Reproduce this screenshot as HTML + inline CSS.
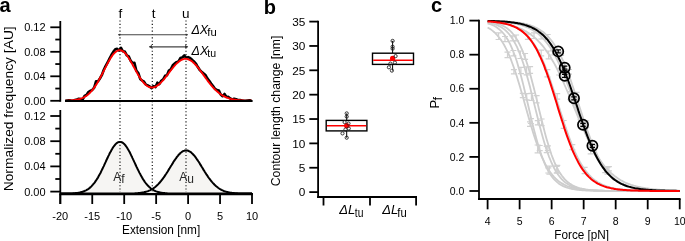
<!DOCTYPE html><html><head><meta charset="utf-8"><style>html,body{margin:0;padding:0;background:#fff;width:685px;height:241px;overflow:hidden}</style></head><body><svg xmlns="http://www.w3.org/2000/svg" width="685" height="241" viewBox="0 0 685 241" style="position:absolute;left:0;top:0;will-change:transform">
<rect width="685" height="241" fill="#fff"/>
<g font-family='"Liberation Sans", sans-serif' fill="#000">
<text x="-0.5" y="12.3" font-size="20" font-weight="bold">a</text>
<text x="263.7" y="13.5" font-size="20" font-weight="bold">b</text>
<text x="431" y="12.4" font-size="20" font-weight="bold">c</text>
<path d="M60.3,193.6 60.9,193.6 61.6,193.6 62.2,193.6 62.9,193.6 63.5,193.6 64.1,193.6 64.8,193.6 65.4,193.6 66.1,193.6 66.7,193.5 67.3,193.5 68.0,193.5 68.6,193.5 69.2,193.5 69.9,193.5 70.5,193.5 71.2,193.4 71.8,193.4 72.4,193.4 73.1,193.3 73.7,193.3 74.4,193.2 75.0,193.2 75.6,193.1 76.3,193.1 76.9,193.0 77.6,192.9 78.2,192.8 78.8,192.7 79.5,192.6 80.1,192.5 80.7,192.3 81.4,192.1 82.0,192.0 82.7,191.8 83.3,191.5 83.9,191.3 84.6,191.0 85.2,190.7 85.9,190.4 86.5,190.1 87.1,189.7 87.8,189.3 88.4,188.9 89.1,188.4 89.7,187.9 90.3,187.3 91.0,186.7 91.6,186.1 92.2,185.4 92.9,184.7 93.5,183.9 94.2,183.1 94.8,182.3 95.4,181.4 96.1,180.4 96.7,179.5 97.4,178.4 98.0,177.4 98.6,176.2 99.3,175.1 99.9,173.9 100.6,172.7 101.2,171.4 101.8,170.1 102.5,168.8 103.1,167.4 103.8,166.1 104.4,164.7 105.0,163.3 105.7,161.9 106.3,160.5 106.9,159.2 107.6,157.8 108.2,156.4 108.9,155.1 109.5,153.8 110.1,152.6 110.8,151.4 111.4,150.2 112.1,149.1 112.7,148.0 113.3,147.0 114.0,146.1 114.6,145.3 115.3,144.5 115.9,143.9 116.5,143.3 117.2,142.8 117.8,142.4 118.4,142.1 119.1,141.9 119.7,141.9 120.4,141.9 121.0,142.0 121.6,142.2 122.3,142.5 122.9,142.9 123.6,143.4 124.2,144.0 124.8,144.7 125.5,145.5 126.1,146.3 126.8,147.2 127.4,148.2 128.0,149.3 128.7,150.4 129.3,151.6 130.0,152.8 130.6,154.1 131.2,155.4 131.9,156.7 132.5,158.1 133.1,159.4 133.8,160.8 134.4,162.2 135.1,163.6 135.7,165.0 136.3,166.4 137.0,167.7 137.6,169.0 138.3,170.4 138.9,171.6 139.5,172.9 140.2,174.1 140.8,175.3 141.5,176.5 142.1,177.6 142.7,178.6 143.4,179.7 144.0,180.6 144.6,181.6 145.3,182.5 145.9,183.3 146.6,184.1 147.2,184.8 147.8,185.6 148.5,186.2 149.1,186.8 149.8,187.4 150.4,188.0 151.0,188.5 151.7,188.9 152.3,189.4 153.0,189.8 153.6,190.2 154.2,190.5 154.9,190.8 155.5,191.1 156.1,191.4 156.8,191.6 157.4,191.8 158.1,192.0 158.7,192.2 159.3,192.3 160.0,192.5 160.6,192.6 161.3,192.7 161.9,192.8 162.5,192.9 163.2,193.0 163.8,193.1 164.5,193.1 165.1,193.2 165.7,193.3 166.4,193.3 167.0,193.3 167.7,193.4 168.3,193.4 168.9,193.4 169.6,193.5 170.2,193.5 170.8,193.5 171.5,193.5 172.1,193.5 172.8,193.5 173.4,193.5 174.0,193.6 174.7,193.6 175.3,193.6 176.0,193.6 176.6,193.6 177.2,193.6 177.9,193.6 178.5,193.6 179.2,193.6 179.8,193.6 180.4,193.6 181.1,193.6 181.7,193.6 182.3,193.6 183.0,193.6 183.6,193.6 184.3,193.6 184.9,193.6 185.5,193.6 186.2,193.6 186.8,193.6 187.5,193.6 188.1,193.6 188.7,193.6 189.4,193.6 190.0,193.6 190.7,193.6 191.3,193.6 191.9,193.6 192.6,193.6 193.2,193.6 193.9,193.6 194.5,193.6 195.1,193.6 195.8,193.6 196.4,193.6 197.0,193.6 197.7,193.6 198.3,193.6 199.0,193.6 199.6,193.6 200.2,193.6 200.9,193.6 201.5,193.6 202.2,193.6 202.8,193.6 203.4,193.6 204.1,193.6 204.7,193.6 205.4,193.6 206.0,193.6 206.6,193.6 207.3,193.6 207.9,193.6 208.5,193.6 209.2,193.6 209.8,193.6 210.5,193.6 211.1,193.6 211.7,193.6 212.4,193.6 213.0,193.6 213.7,193.6 214.3,193.6 214.9,193.6 215.6,193.6 216.2,193.6 216.9,193.6 217.5,193.6 218.1,193.6 218.8,193.6 219.4,193.6 220.1,193.6 220.7,193.6 221.3,193.6 222.0,193.6 222.6,193.6 223.2,193.6 223.9,193.6 224.5,193.6 225.2,193.6 225.8,193.6 226.4,193.6 227.1,193.6 227.7,193.6 228.4,193.6 229.0,193.6 229.6,193.6 230.3,193.6 230.9,193.6 231.6,193.6 232.2,193.6 232.8,193.6 233.5,193.6 234.1,193.6 234.7,193.6 235.4,193.6 236.0,193.6 236.7,193.6 237.3,193.6 237.9,193.6 238.6,193.6 239.2,193.6 239.9,193.6 240.5,193.6 241.1,193.6 241.8,193.6 242.4,193.6 243.1,193.6 243.7,193.6 244.3,193.6 245.0,193.6 245.6,193.6 246.2,193.6 246.9,193.6 247.5,193.6 248.2,193.6 248.8,193.6 249.4,193.6 250.1,193.6 250.7,193.6 251.4,193.6 252.0,193.6 L252.00,193.60 L60.30,193.60 Z" fill="#f6f5f3" stroke="none"/>
<path d="M60.3,193.6 60.9,193.6 61.6,193.6 62.2,193.6 62.9,193.6 63.5,193.6 64.1,193.6 64.8,193.6 65.4,193.6 66.1,193.6 66.7,193.6 67.3,193.6 68.0,193.6 68.6,193.6 69.2,193.6 69.9,193.6 70.5,193.6 71.2,193.6 71.8,193.6 72.4,193.6 73.1,193.6 73.7,193.6 74.4,193.6 75.0,193.6 75.6,193.6 76.3,193.6 76.9,193.6 77.6,193.6 78.2,193.6 78.8,193.6 79.5,193.6 80.1,193.6 80.7,193.6 81.4,193.6 82.0,193.6 82.7,193.6 83.3,193.6 83.9,193.6 84.6,193.6 85.2,193.6 85.9,193.6 86.5,193.6 87.1,193.6 87.8,193.6 88.4,193.6 89.1,193.6 89.7,193.6 90.3,193.6 91.0,193.6 91.6,193.6 92.2,193.6 92.9,193.6 93.5,193.6 94.2,193.6 94.8,193.6 95.4,193.6 96.1,193.6 96.7,193.6 97.4,193.6 98.0,193.6 98.6,193.6 99.3,193.6 99.9,193.6 100.6,193.6 101.2,193.6 101.8,193.6 102.5,193.6 103.1,193.6 103.8,193.6 104.4,193.6 105.0,193.6 105.7,193.6 106.3,193.6 106.9,193.6 107.6,193.6 108.2,193.6 108.9,193.6 109.5,193.6 110.1,193.6 110.8,193.6 111.4,193.6 112.1,193.6 112.7,193.6 113.3,193.6 114.0,193.6 114.6,193.6 115.3,193.6 115.9,193.6 116.5,193.6 117.2,193.6 117.8,193.6 118.4,193.6 119.1,193.6 119.7,193.6 120.4,193.6 121.0,193.6 121.6,193.6 122.3,193.6 122.9,193.6 123.6,193.6 124.2,193.6 124.8,193.6 125.5,193.6 126.1,193.6 126.8,193.6 127.4,193.5 128.0,193.5 128.7,193.5 129.3,193.5 130.0,193.5 130.6,193.5 131.2,193.5 131.9,193.5 132.5,193.4 133.1,193.4 133.8,193.4 134.4,193.4 135.1,193.3 135.7,193.3 136.3,193.3 137.0,193.2 137.6,193.2 138.3,193.1 138.9,193.1 139.5,193.0 140.2,192.9 140.8,192.8 141.5,192.7 142.1,192.6 142.7,192.5 143.4,192.4 144.0,192.3 144.6,192.1 145.3,192.0 145.9,191.8 146.6,191.6 147.2,191.4 147.8,191.2 148.5,190.9 149.1,190.6 149.8,190.4 150.4,190.1 151.0,189.7 151.7,189.4 152.3,189.0 153.0,188.6 153.6,188.2 154.2,187.7 154.9,187.2 155.5,186.7 156.1,186.2 156.8,185.6 157.4,185.0 158.1,184.4 158.7,183.7 159.3,183.0 160.0,182.3 160.6,181.5 161.3,180.7 161.9,179.9 162.5,179.1 163.2,178.2 163.8,177.3 164.5,176.4 165.1,175.4 165.7,174.5 166.4,173.5 167.0,172.5 167.7,171.5 168.3,170.4 168.9,169.4 169.6,168.3 170.2,167.3 170.8,166.2 171.5,165.2 172.1,164.2 172.8,163.1 173.4,162.1 174.0,161.1 174.7,160.2 175.3,159.2 176.0,158.3 176.6,157.4 177.2,156.6 177.9,155.8 178.5,155.0 179.2,154.3 179.8,153.7 180.4,153.0 181.1,152.5 181.7,152.0 182.3,151.6 183.0,151.2 183.6,150.9 184.3,150.7 184.9,150.5 185.5,150.4 186.2,150.4 186.8,150.4 187.5,150.5 188.1,150.7 188.7,151.0 189.4,151.3 190.0,151.7 190.7,152.1 191.3,152.6 191.9,153.2 192.6,153.8 193.2,154.5 193.9,155.2 194.5,155.9 195.1,156.7 195.8,157.6 196.4,158.5 197.0,159.4 197.7,160.4 198.3,161.3 199.0,162.3 199.6,163.3 200.2,164.4 200.9,165.4 201.5,166.5 202.2,167.5 202.8,168.5 203.4,169.6 204.1,170.6 204.7,171.7 205.4,172.7 206.0,173.7 206.6,174.7 207.3,175.6 207.9,176.6 208.5,177.5 209.2,178.4 209.8,179.2 210.5,180.1 211.1,180.9 211.7,181.7 212.4,182.4 213.0,183.1 213.7,183.8 214.3,184.5 214.9,185.1 215.6,185.7 216.2,186.3 216.9,186.8 217.5,187.3 218.1,187.8 218.8,188.3 219.4,188.7 220.1,189.1 220.7,189.4 221.3,189.8 222.0,190.1 222.6,190.4 223.2,190.7 223.9,191.0 224.5,191.2 225.2,191.4 225.8,191.6 226.4,191.8 227.1,192.0 227.7,192.1 228.4,192.3 229.0,192.4 229.6,192.5 230.3,192.7 230.9,192.8 231.6,192.8 232.2,192.9 232.8,193.0 233.5,193.1 234.1,193.1 234.7,193.2 235.4,193.2 236.0,193.3 236.7,193.3 237.3,193.3 237.9,193.4 238.6,193.4 239.2,193.4 239.9,193.4 240.5,193.5 241.1,193.5 241.8,193.5 242.4,193.5 243.1,193.5 243.7,193.5 244.3,193.5 245.0,193.6 245.6,193.6 246.2,193.6 246.9,193.6 247.5,193.6 248.2,193.6 248.8,193.6 249.4,193.6 250.1,193.6 250.7,193.6 251.4,193.6 252.0,193.6 L252.00,193.60 L60.30,193.60 Z" fill="#f6f5f3" stroke="none"/>
<path d="M60.3,193.6 60.9,193.6 61.6,193.6 62.2,193.6 62.9,193.6 63.5,193.6 64.1,193.6 64.8,193.6 65.4,193.6 66.1,193.6 66.7,193.5 67.3,193.5 68.0,193.5 68.6,193.5 69.2,193.5 69.9,193.5 70.5,193.5 71.2,193.4 71.8,193.4 72.4,193.4 73.1,193.3 73.7,193.3 74.4,193.2 75.0,193.2 75.6,193.1 76.3,193.1 76.9,193.0 77.6,192.9 78.2,192.8 78.8,192.7 79.5,192.6 80.1,192.5 80.7,192.3 81.4,192.1 82.0,192.0 82.7,191.8 83.3,191.5 83.9,191.3 84.6,191.0 85.2,190.7 85.9,190.4 86.5,190.1 87.1,189.7 87.8,189.3 88.4,188.9 89.1,188.4 89.7,187.9 90.3,187.3 91.0,186.7 91.6,186.1 92.2,185.4 92.9,184.7 93.5,183.9 94.2,183.1 94.8,182.3 95.4,181.4 96.1,180.4 96.7,179.5 97.4,178.4 98.0,177.4 98.6,176.2 99.3,175.1 99.9,173.9 100.6,172.7 101.2,171.4 101.8,170.1 102.5,168.8 103.1,167.4 103.8,166.1 104.4,164.7 105.0,163.3 105.7,161.9 106.3,160.5 106.9,159.2 107.6,157.8 108.2,156.4 108.9,155.1 109.5,153.8 110.1,152.6 110.8,151.4 111.4,150.2 112.1,149.1 112.7,148.0 113.3,147.0 114.0,146.1 114.6,145.3 115.3,144.5 115.9,143.9 116.5,143.3 117.2,142.8 117.8,142.4 118.4,142.1 119.1,141.9 119.7,141.9 120.4,141.9 121.0,142.0 121.6,142.2 122.3,142.5 122.9,142.9 123.6,143.4 124.2,144.0 124.8,144.7 125.5,145.5 126.1,146.3 126.8,147.2 127.4,148.2 128.0,149.3 128.7,150.4 129.3,151.6 130.0,152.8 130.6,154.1 131.2,155.4 131.9,156.7 132.5,158.1 133.1,159.4 133.8,160.8 134.4,162.2 135.1,163.6 135.7,165.0 136.3,166.4 137.0,167.7 137.6,169.0 138.3,170.4 138.9,171.6 139.5,172.9 140.2,174.1 140.8,175.3 141.5,176.5 142.1,177.6 142.7,178.6 143.4,179.7 144.0,180.6 144.6,181.6 145.3,182.5 145.9,183.3 146.6,184.1 147.2,184.8 147.8,185.6 148.5,186.2 149.1,186.8 149.8,187.4 150.4,188.0 151.0,188.5 151.7,188.9 152.3,189.4 153.0,189.8 153.6,190.2 154.2,190.5 154.9,190.8 155.5,191.1 156.1,191.4 156.8,191.6 157.4,191.8 158.1,192.0 158.7,192.2 159.3,192.3 160.0,192.5 160.6,192.6 161.3,192.7 161.9,192.8 162.5,192.9 163.2,193.0 163.8,193.1 164.5,193.1 165.1,193.2 165.7,193.3 166.4,193.3 167.0,193.3 167.7,193.4 168.3,193.4 168.9,193.4 169.6,193.5 170.2,193.5 170.8,193.5 171.5,193.5 172.1,193.5 172.8,193.5 173.4,193.5 174.0,193.6 174.7,193.6 175.3,193.6 176.0,193.6 176.6,193.6 177.2,193.6 177.9,193.6 178.5,193.6 179.2,193.6 179.8,193.6 180.4,193.6 181.1,193.6 181.7,193.6 182.3,193.6 183.0,193.6 183.6,193.6 184.3,193.6 184.9,193.6 185.5,193.6 186.2,193.6 186.8,193.6 187.5,193.6 188.1,193.6 188.7,193.6 189.4,193.6 190.0,193.6 190.7,193.6 191.3,193.6 191.9,193.6 192.6,193.6 193.2,193.6 193.9,193.6 194.5,193.6 195.1,193.6 195.8,193.6 196.4,193.6 197.0,193.6 197.7,193.6 198.3,193.6 199.0,193.6 199.6,193.6 200.2,193.6 200.9,193.6 201.5,193.6 202.2,193.6 202.8,193.6 203.4,193.6 204.1,193.6 204.7,193.6 205.4,193.6 206.0,193.6 206.6,193.6 207.3,193.6 207.9,193.6 208.5,193.6 209.2,193.6 209.8,193.6 210.5,193.6 211.1,193.6 211.7,193.6 212.4,193.6 213.0,193.6 213.7,193.6 214.3,193.6 214.9,193.6 215.6,193.6 216.2,193.6 216.9,193.6 217.5,193.6 218.1,193.6 218.8,193.6 219.4,193.6 220.1,193.6 220.7,193.6 221.3,193.6 222.0,193.6 222.6,193.6 223.2,193.6 223.9,193.6 224.5,193.6 225.2,193.6 225.8,193.6 226.4,193.6 227.1,193.6 227.7,193.6 228.4,193.6 229.0,193.6 229.6,193.6 230.3,193.6 230.9,193.6 231.6,193.6 232.2,193.6 232.8,193.6 233.5,193.6 234.1,193.6 234.7,193.6 235.4,193.6 236.0,193.6 236.7,193.6 237.3,193.6 237.9,193.6 238.6,193.6 239.2,193.6 239.9,193.6 240.5,193.6 241.1,193.6 241.8,193.6 242.4,193.6 243.1,193.6 243.7,193.6 244.3,193.6 245.0,193.6 245.6,193.6 246.2,193.6 246.9,193.6 247.5,193.6 248.2,193.6 248.8,193.6 249.4,193.6 250.1,193.6 250.7,193.6 251.4,193.6 252.0,193.6" fill="none" stroke="#000" stroke-width="2"/>
<path d="M60.3,193.6 60.9,193.6 61.6,193.6 62.2,193.6 62.9,193.6 63.5,193.6 64.1,193.6 64.8,193.6 65.4,193.6 66.1,193.6 66.7,193.6 67.3,193.6 68.0,193.6 68.6,193.6 69.2,193.6 69.9,193.6 70.5,193.6 71.2,193.6 71.8,193.6 72.4,193.6 73.1,193.6 73.7,193.6 74.4,193.6 75.0,193.6 75.6,193.6 76.3,193.6 76.9,193.6 77.6,193.6 78.2,193.6 78.8,193.6 79.5,193.6 80.1,193.6 80.7,193.6 81.4,193.6 82.0,193.6 82.7,193.6 83.3,193.6 83.9,193.6 84.6,193.6 85.2,193.6 85.9,193.6 86.5,193.6 87.1,193.6 87.8,193.6 88.4,193.6 89.1,193.6 89.7,193.6 90.3,193.6 91.0,193.6 91.6,193.6 92.2,193.6 92.9,193.6 93.5,193.6 94.2,193.6 94.8,193.6 95.4,193.6 96.1,193.6 96.7,193.6 97.4,193.6 98.0,193.6 98.6,193.6 99.3,193.6 99.9,193.6 100.6,193.6 101.2,193.6 101.8,193.6 102.5,193.6 103.1,193.6 103.8,193.6 104.4,193.6 105.0,193.6 105.7,193.6 106.3,193.6 106.9,193.6 107.6,193.6 108.2,193.6 108.9,193.6 109.5,193.6 110.1,193.6 110.8,193.6 111.4,193.6 112.1,193.6 112.7,193.6 113.3,193.6 114.0,193.6 114.6,193.6 115.3,193.6 115.9,193.6 116.5,193.6 117.2,193.6 117.8,193.6 118.4,193.6 119.1,193.6 119.7,193.6 120.4,193.6 121.0,193.6 121.6,193.6 122.3,193.6 122.9,193.6 123.6,193.6 124.2,193.6 124.8,193.6 125.5,193.6 126.1,193.6 126.8,193.6 127.4,193.5 128.0,193.5 128.7,193.5 129.3,193.5 130.0,193.5 130.6,193.5 131.2,193.5 131.9,193.5 132.5,193.4 133.1,193.4 133.8,193.4 134.4,193.4 135.1,193.3 135.7,193.3 136.3,193.3 137.0,193.2 137.6,193.2 138.3,193.1 138.9,193.1 139.5,193.0 140.2,192.9 140.8,192.8 141.5,192.7 142.1,192.6 142.7,192.5 143.4,192.4 144.0,192.3 144.6,192.1 145.3,192.0 145.9,191.8 146.6,191.6 147.2,191.4 147.8,191.2 148.5,190.9 149.1,190.6 149.8,190.4 150.4,190.1 151.0,189.7 151.7,189.4 152.3,189.0 153.0,188.6 153.6,188.2 154.2,187.7 154.9,187.2 155.5,186.7 156.1,186.2 156.8,185.6 157.4,185.0 158.1,184.4 158.7,183.7 159.3,183.0 160.0,182.3 160.6,181.5 161.3,180.7 161.9,179.9 162.5,179.1 163.2,178.2 163.8,177.3 164.5,176.4 165.1,175.4 165.7,174.5 166.4,173.5 167.0,172.5 167.7,171.5 168.3,170.4 168.9,169.4 169.6,168.3 170.2,167.3 170.8,166.2 171.5,165.2 172.1,164.2 172.8,163.1 173.4,162.1 174.0,161.1 174.7,160.2 175.3,159.2 176.0,158.3 176.6,157.4 177.2,156.6 177.9,155.8 178.5,155.0 179.2,154.3 179.8,153.7 180.4,153.0 181.1,152.5 181.7,152.0 182.3,151.6 183.0,151.2 183.6,150.9 184.3,150.7 184.9,150.5 185.5,150.4 186.2,150.4 186.8,150.4 187.5,150.5 188.1,150.7 188.7,151.0 189.4,151.3 190.0,151.7 190.7,152.1 191.3,152.6 191.9,153.2 192.6,153.8 193.2,154.5 193.9,155.2 194.5,155.9 195.1,156.7 195.8,157.6 196.4,158.5 197.0,159.4 197.7,160.4 198.3,161.3 199.0,162.3 199.6,163.3 200.2,164.4 200.9,165.4 201.5,166.5 202.2,167.5 202.8,168.5 203.4,169.6 204.1,170.6 204.7,171.7 205.4,172.7 206.0,173.7 206.6,174.7 207.3,175.6 207.9,176.6 208.5,177.5 209.2,178.4 209.8,179.2 210.5,180.1 211.1,180.9 211.7,181.7 212.4,182.4 213.0,183.1 213.7,183.8 214.3,184.5 214.9,185.1 215.6,185.7 216.2,186.3 216.9,186.8 217.5,187.3 218.1,187.8 218.8,188.3 219.4,188.7 220.1,189.1 220.7,189.4 221.3,189.8 222.0,190.1 222.6,190.4 223.2,190.7 223.9,191.0 224.5,191.2 225.2,191.4 225.8,191.6 226.4,191.8 227.1,192.0 227.7,192.1 228.4,192.3 229.0,192.4 229.6,192.5 230.3,192.7 230.9,192.8 231.6,192.8 232.2,192.9 232.8,193.0 233.5,193.1 234.1,193.1 234.7,193.2 235.4,193.2 236.0,193.3 236.7,193.3 237.3,193.3 237.9,193.4 238.6,193.4 239.2,193.4 239.9,193.4 240.5,193.5 241.1,193.5 241.8,193.5 242.4,193.5 243.1,193.5 243.7,193.5 244.3,193.5 245.0,193.6 245.6,193.6 246.2,193.6 246.9,193.6 247.5,193.6 248.2,193.6 248.8,193.6 249.4,193.6 250.1,193.6 250.7,193.6 251.4,193.6 252.0,193.6" fill="none" stroke="#000" stroke-width="2"/>
<line x1="120.0" y1="20.5" x2="120.0" y2="192" stroke="#111" stroke-width="1.2" stroke-dasharray="1.1 2.26"/>
<line x1="152.3" y1="20.5" x2="152.3" y2="192" stroke="#111" stroke-width="1.2" stroke-dasharray="1.1 2.26"/>
<line x1="186.0" y1="20.5" x2="186.0" y2="192" stroke="#111" stroke-width="1.2" stroke-dasharray="1.1 2.26"/>
<path d="M65.4,100.8 67.3,100.5 69.2,100.2 71.2,100.6 73.1,100.7 75.0,100.0 76.9,99.5 78.8,98.8 80.7,99.0 82.7,99.4 84.6,95.9 86.5,94.9 88.4,92.1 90.3,90.9 92.2,90.0 94.2,87.6 96.1,81.2 98.0,81.4 99.9,78.5 101.8,75.2 103.8,69.7 105.7,65.8 107.6,62.5 109.5,58.6 111.4,55.0 113.3,51.8 115.3,49.2 117.2,48.8 119.1,50.7 121.0,47.8 122.9,51.3 124.8,51.5 126.8,55.4 128.7,56.4 130.6,60.7 132.5,63.0 134.4,62.9 136.3,70.6 138.3,73.0 140.2,78.9 142.1,80.5 144.0,81.7 145.9,84.6 147.8,85.4 149.8,86.6 151.7,88.2 153.6,86.1 155.5,87.1 157.4,82.7 159.3,84.1 161.3,80.7 163.2,79.4 165.1,75.8 167.0,75.2 168.9,70.6 170.8,69.4 172.8,65.2 174.7,63.6 176.6,62.1 178.5,61.4 180.4,58.1 182.3,57.5 184.3,55.5 186.2,57.9 188.1,57.1 190.0,58.0 191.9,59.6 193.9,61.4 195.8,63.5 197.7,66.8 199.6,69.8 201.5,71.7 203.4,73.3 205.4,74.9 207.3,78.3 209.2,80.8 211.1,83.6 213.0,86.0 214.9,88.8 216.9,89.9 218.8,90.4 220.7,94.5 222.6,96.2 224.5,94.0 226.4,97.0 228.4,96.9 230.3,98.4 232.2,99.6 234.1,98.7 236.0,99.2 237.9,100.0 239.9,100.0 241.8,100.4 243.7,100.8 245.6,100.7 247.5,100.5 249.4,100.3 251.4,100.5" fill="none" stroke="#000" stroke-width="2.6" stroke-linejoin="round"/>
<path d="M65.4,100.7 66.1,100.7 66.7,100.7 67.3,100.6 68.0,100.6 68.6,100.6 69.2,100.5 69.9,100.5 70.5,100.5 71.2,100.4 71.8,100.4 72.4,100.3 73.1,100.3 73.7,100.2 74.4,100.1 75.0,100.0 75.6,99.9 76.3,99.8 76.9,99.7 77.6,99.5 78.2,99.4 78.8,99.2 79.5,99.1 80.1,98.9 80.7,98.6 81.4,98.4 82.0,98.2 82.7,97.9 83.3,97.6 83.9,97.3 84.6,96.9 85.2,96.5 85.9,96.1 86.5,95.7 87.1,95.2 87.8,94.7 88.4,94.2 89.1,93.6 89.7,93.0 90.3,92.4 91.0,91.7 91.6,91.0 92.2,90.2 92.9,89.4 93.5,88.6 94.2,87.7 94.8,86.8 95.4,85.9 96.1,84.9 96.7,83.9 97.4,82.8 98.0,81.7 98.6,80.6 99.3,79.5 99.9,78.3 100.6,77.1 101.2,75.9 101.8,74.7 102.5,73.4 103.1,72.2 103.8,70.9 104.4,69.6 105.0,68.4 105.7,67.1 106.3,65.9 106.9,64.6 107.6,63.4 108.2,62.2 108.9,61.1 109.5,60.0 110.1,58.9 110.8,57.8 111.4,56.9 112.1,55.9 112.7,55.0 113.3,54.2 114.0,53.5 114.6,52.8 115.3,52.2 115.9,51.7 116.5,51.2 117.2,50.9 117.8,50.6 118.4,50.4 119.1,50.2 119.7,50.2 120.4,50.3 121.0,50.4 121.6,50.6 122.3,50.9 122.9,51.3 123.6,51.8 124.2,52.3 124.8,52.9 125.5,53.6 126.1,54.4 126.8,55.2 127.4,56.0 128.0,57.0 128.7,57.9 129.3,59.0 130.0,60.0 130.6,61.1 131.2,62.2 131.9,63.4 132.5,64.5 133.1,65.7 133.8,66.9 134.4,68.1 135.1,69.3 135.7,70.4 136.3,71.6 137.0,72.7 137.6,73.9 138.3,75.0 138.9,76.0 139.5,77.1 140.2,78.1 140.8,79.0 141.5,79.9 142.1,80.8 142.7,81.6 143.4,82.4 144.0,83.1 144.6,83.8 145.3,84.4 145.9,85.0 146.6,85.5 147.2,86.0 147.8,86.3 148.5,86.7 149.1,87.0 149.8,87.2 150.4,87.3 151.0,87.4 151.7,87.5 152.3,87.5 153.0,87.4 153.6,87.3 154.2,87.1 154.9,86.9 155.5,86.6 156.2,86.3 156.8,85.9 157.4,85.5 158.1,85.1 158.7,84.6 159.3,84.0 160.0,83.5 160.6,82.9 161.3,82.2 161.9,81.5 162.5,80.8 163.2,80.1 163.8,79.4 164.5,78.6 165.1,77.8 165.7,77.0 166.4,76.2 167.0,75.3 167.7,74.5 168.3,73.7 168.9,72.8 169.6,72.0 170.2,71.1 170.8,70.3 171.5,69.5 172.1,68.7 172.8,67.9 173.4,67.1 174.0,66.3 174.7,65.6 175.3,64.9 176.0,64.2 176.6,63.6 177.2,62.9 177.9,62.4 178.5,61.8 179.2,61.3 179.8,60.9 180.4,60.4 181.1,60.1 181.7,59.7 182.3,59.5 183.0,59.2 183.6,59.1 184.3,58.9 184.9,58.9 185.5,58.8 186.2,58.9 186.8,58.9 187.5,59.1 188.1,59.3 188.7,59.5 189.4,59.8 190.0,60.1 190.7,60.5 191.3,60.9 191.9,61.3 192.6,61.9 193.2,62.4 193.9,63.0 194.5,63.6 195.1,64.3 195.8,65.0 196.4,65.7 197.0,66.4 197.7,67.2 198.3,68.0 199.0,68.8 199.6,69.7 200.2,70.5 200.9,71.4 201.5,72.2 202.2,73.1 202.8,74.0 203.4,74.9 204.1,75.8 204.7,76.7 205.4,77.6 206.0,78.5 206.6,79.3 207.3,80.2 207.9,81.1 208.5,81.9 209.2,82.7 209.8,83.6 210.5,84.3 211.1,85.1 211.7,85.9 212.4,86.6 213.0,87.4 213.7,88.1 214.3,88.7 214.9,89.4 215.6,90.0 216.2,90.6 216.9,91.2 217.5,91.8 218.1,92.3 218.8,92.9 219.4,93.4 220.1,93.8 220.7,94.3 221.3,94.7 222.0,95.1 222.6,95.5 223.2,95.9 223.9,96.2 224.5,96.6 225.2,96.9 225.8,97.2 226.4,97.4 227.1,97.7 227.7,97.9 228.4,98.2 229.0,98.4 229.6,98.6 230.3,98.7 230.9,98.9 231.6,99.1 232.2,99.2 232.8,99.4 233.5,99.5 234.1,99.6 234.7,99.7 235.4,99.8 236.0,99.9 236.7,100.0 237.3,100.1 237.9,100.1 238.6,100.2 239.2,100.3 239.9,100.3 240.5,100.4 241.1,100.4 241.8,100.4 242.4,100.5 243.1,100.5 243.7,100.5 244.3,100.6 245.0,100.6 245.6,100.6 246.2,100.6 246.9,100.7 247.5,100.7 248.2,100.7 248.8,100.7 249.4,100.7 250.1,100.7 250.7,100.7 251.4,100.7 252.0,100.7" fill="none" stroke="#f00" stroke-width="1.9"/>
<line x1="65" y1="101" x2="252.6" y2="101" stroke="#000" stroke-width="1.8"/>
<g stroke="#000" stroke-width="1.8" fill="none">
<line x1="60.3" y1="21" x2="60.3" y2="101.8"/>
<line x1="50.3" y1="100.80" x2="60.3" y2="100.80"/>
<line x1="55.3" y1="88.55" x2="60.3" y2="88.55"/>
<line x1="50.3" y1="76.30" x2="60.3" y2="76.30"/>
<line x1="55.3" y1="64.05" x2="60.3" y2="64.05"/>
<line x1="50.3" y1="51.80" x2="60.3" y2="51.80"/>
<line x1="55.3" y1="39.55" x2="60.3" y2="39.55"/>
<line x1="50.3" y1="27.30" x2="60.3" y2="27.30"/>
<line x1="60.3" y1="110" x2="60.3" y2="204"/>
<line x1="50.3" y1="191.60" x2="60.3" y2="191.60"/>
<line x1="55.3" y1="179.00" x2="60.3" y2="179.00"/>
<line x1="50.3" y1="166.40" x2="60.3" y2="166.40"/>
<line x1="55.3" y1="153.80" x2="60.3" y2="153.80"/>
<line x1="50.3" y1="141.20" x2="60.3" y2="141.20"/>
<line x1="55.3" y1="128.60" x2="60.3" y2="128.60"/>
<line x1="50.3" y1="116.00" x2="60.3" y2="116.00"/>
<line x1="59.5" y1="194.2" x2="253" y2="194.2" stroke-width="2.2"/>
<line x1="60.30" y1="194" x2="60.30" y2="204"/>
<line x1="92.25" y1="194" x2="92.25" y2="204"/>
<line x1="124.20" y1="194" x2="124.20" y2="204"/>
<line x1="156.15" y1="194" x2="156.15" y2="204"/>
<line x1="188.10" y1="194" x2="188.10" y2="204"/>
<line x1="220.05" y1="194" x2="220.05" y2="204"/>
<line x1="252.00" y1="194" x2="252.00" y2="204"/>
</g>
<text x="45.6" y="104.80" font-size="11" text-anchor="end">0.00</text>
<text x="45.6" y="195.60" font-size="11" text-anchor="end">0.00</text>
<text x="45.6" y="80.30" font-size="11" text-anchor="end">0.04</text>
<text x="45.6" y="170.40" font-size="11" text-anchor="end">0.04</text>
<text x="45.6" y="55.80" font-size="11" text-anchor="end">0.08</text>
<text x="45.6" y="145.20" font-size="11" text-anchor="end">0.08</text>
<text x="45.6" y="31.30" font-size="11" text-anchor="end">0.12</text>
<text x="45.6" y="120.00" font-size="11" text-anchor="end">0.12</text>
<text x="60.30" y="220.2" font-size="11" text-anchor="middle">-20</text>
<text x="92.25" y="220.2" font-size="11" text-anchor="middle">-15</text>
<text x="124.20" y="220.2" font-size="11" text-anchor="middle">-10</text>
<text x="156.15" y="220.2" font-size="11" text-anchor="middle">-5</text>
<text x="188.10" y="220.2" font-size="11" text-anchor="middle">0</text>
<text x="220.05" y="220.2" font-size="11" text-anchor="middle">5</text>
<text x="252.00" y="220.2" font-size="11" text-anchor="middle">10</text>
<text x="161.1" y="234" font-size="13" text-anchor="middle" textLength="78.2" lengthAdjust="spacingAndGlyphs">Extension [nm]</text>
<text transform="translate(13,108.8) rotate(-90)" font-size="13.5" text-anchor="middle" textLength="165" lengthAdjust="spacingAndGlyphs">Normalized frequency [AU]</text>
<text x="120.4" y="18.1" font-size="13.5" text-anchor="middle">f</text>
<text x="153.6" y="18.1" font-size="13.5" text-anchor="middle">t</text>
<text x="185.8" y="18.1" font-size="13.5" text-anchor="middle">u</text>
<g stroke="#444" stroke-width="1.1" fill="#444">
<line x1="118.5" y1="34.7" x2="187.5" y2="34.7"/>
<line x1="149.5" y1="46.8" x2="187.5" y2="46.8" stroke-width="1.3"/>
</g>
<g fill="#333" stroke="none">
<path d="M117.8,34.7 l2.4,-1.2 v2.4z M188.2,34.7 l-2.4,-1.2 v2.4z"/>
<path d="M148.8,46.8 l3.2,-1.8 v3.6z M188.3,46.8 l-3.2,-1.8 v3.6z"/>
</g>
<text x="191.4" y="34" font-size="12.5"><tspan font-style="italic">ΔX</tspan><tspan font-size="11" dx="-0.8" dy="2.2" textLength="9.4" lengthAdjust="spacingAndGlyphs">fu</tspan></text>
<text x="191.5" y="54.6" font-size="12.5"><tspan font-style="italic">ΔX</tspan><tspan font-size="11" dx="-0.9" dy="2.4" textLength="8.8" lengthAdjust="spacingAndGlyphs">tu</tspan></text>
<text x="113.2" y="181.3" font-size="12" fill="#2a2a2a">A<tspan font-size="12" dy="2">f</tspan></text>
<text x="179.3" y="181.3" font-size="12" fill="#2a2a2a">A<tspan font-size="12" dy="2">u</tspan></text>
<g stroke="#000" stroke-width="1.8" fill="none">
<line x1="318.1" y1="20.8" x2="318.1" y2="197.9"/>
<line x1="309.3" y1="192.10" x2="318.1" y2="192.10"/>
<line x1="309.3" y1="167.74" x2="318.1" y2="167.74"/>
<line x1="309.3" y1="143.39" x2="318.1" y2="143.39"/>
<line x1="309.3" y1="119.03" x2="318.1" y2="119.03"/>
<line x1="309.3" y1="94.67" x2="318.1" y2="94.67"/>
<line x1="309.3" y1="70.31" x2="318.1" y2="70.31"/>
<line x1="309.3" y1="45.96" x2="318.1" y2="45.96"/>
<line x1="309.3" y1="21.60" x2="318.1" y2="21.60"/>
<line x1="317.2" y1="197" x2="417" y2="197"/>
<line x1="323.5" y1="197" x2="323.5" y2="205.5"/>
<line x1="370" y1="197" x2="370" y2="205.5"/>
<line x1="416.1" y1="197" x2="416.1" y2="205.5"/>
</g>
<text x="305.4" y="196.30" font-size="11.8" text-anchor="end">0</text>
<text x="305.4" y="171.94" font-size="11.8" text-anchor="end">5</text>
<text x="305.4" y="147.59" font-size="11.8" text-anchor="end">10</text>
<text x="305.4" y="123.23" font-size="11.8" text-anchor="end">15</text>
<text x="305.4" y="98.87" font-size="11.8" text-anchor="end">20</text>
<text x="305.4" y="74.51" font-size="11.8" text-anchor="end">25</text>
<text x="305.4" y="50.16" font-size="11.8" text-anchor="end">30</text>
<text x="305.4" y="25.80" font-size="11.8" text-anchor="end">35</text>
<text transform="translate(280.4,110.9) rotate(-90)" font-size="12.8" text-anchor="middle" textLength="150.6" lengthAdjust="spacingAndGlyphs">Contour length change [nm]</text>
<text x="339.2" y="214.2" font-size="13"><tspan font-style="italic">ΔL</tspan><tspan font-size="12" dx="-0.3" dy="2.4" textLength="8.6" lengthAdjust="spacingAndGlyphs">tu</tspan></text>
<text x="382.2" y="214.2" font-size="13"><tspan font-style="italic">ΔL</tspan><tspan font-size="12" dx="-0.8" dy="2.4" textLength="9.4" lengthAdjust="spacingAndGlyphs">fu</tspan></text>
<line x1="346.7" y1="113.4" x2="346.7" y2="120.4" stroke="#000" stroke-width="1"/>
<line x1="346.7" y1="130.9" x2="346.7" y2="137.7" stroke="#000" stroke-width="1"/>
<rect x="326.2" y="120.4" width="40.69999999999999" height="10.5" fill="#fff" stroke="#000" stroke-width="1.4"/>
<line x1="326.9" y1="125.7" x2="366.2" y2="125.7" stroke="#f00" stroke-width="1.4"/>
<circle cx="346.7" cy="125.7" r="2.6" fill="#f00"/>
<circle cx="346.7" cy="113.4" r="1.6" fill="none" stroke="#222" stroke-width="0.9"/>
<circle cx="346.7" cy="116.6" r="1.6" fill="none" stroke="#222" stroke-width="0.9"/>
<circle cx="344.6" cy="122.1" r="1.6" fill="none" stroke="#222" stroke-width="0.9"/>
<circle cx="348.5" cy="123.5" r="1.6" fill="none" stroke="#222" stroke-width="0.9"/>
<circle cx="348.8" cy="128.5" r="1.6" fill="none" stroke="#222" stroke-width="0.9"/>
<circle cx="345.5" cy="129.5" r="1.6" fill="none" stroke="#222" stroke-width="0.9"/>
<circle cx="342.5" cy="133.4" r="1.6" fill="none" stroke="#222" stroke-width="0.9"/>
<circle cx="346.7" cy="137.7" r="1.6" fill="none" stroke="#222" stroke-width="0.9"/>
<line x1="392.6" y1="40.9" x2="392.6" y2="53.2" stroke="#000" stroke-width="1"/>
<line x1="392.6" y1="64.4" x2="392.6" y2="70.6" stroke="#000" stroke-width="1"/>
<rect x="372.5" y="53.2" width="41.0" height="11.200000000000003" fill="#fff" stroke="#000" stroke-width="1.4"/>
<line x1="373.2" y1="60.3" x2="412.8" y2="60.3" stroke="#f00" stroke-width="1.4"/>
<circle cx="392.6" cy="58.4" r="2.6" fill="#f00"/>
<circle cx="392.6" cy="40.9" r="1.6" fill="none" stroke="#222" stroke-width="0.9"/>
<circle cx="392.6" cy="46.7" r="1.6" fill="none" stroke="#222" stroke-width="0.9"/>
<circle cx="392.6" cy="48.7" r="1.6" fill="none" stroke="#222" stroke-width="0.9"/>
<circle cx="395.6" cy="56.1" r="1.6" fill="none" stroke="#222" stroke-width="0.9"/>
<circle cx="394.9" cy="62.6" r="1.6" fill="none" stroke="#222" stroke-width="0.9"/>
<circle cx="390.4" cy="63.6" r="1.6" fill="none" stroke="#222" stroke-width="0.9"/>
<circle cx="388.9" cy="67.3" r="1.6" fill="none" stroke="#222" stroke-width="0.9"/>
<circle cx="391.9" cy="70.6" r="1.6" fill="none" stroke="#222" stroke-width="0.9"/>
<path d="M487.6,27.5 488.9,28.2 490.2,29.0 491.4,29.9 492.7,30.9 494.0,32.0 495.3,33.2 496.6,34.5 497.8,36.0 499.1,37.5 500.4,39.2 501.7,41.1 503.0,43.1 504.3,45.3 505.5,47.7 506.8,50.2 508.1,52.9 509.4,55.8 510.7,58.9 511.9,62.2 513.2,65.7 514.5,69.4 515.8,73.2 517.1,77.2 518.3,81.3 519.6,85.6 520.9,90.0 522.2,94.4 523.5,98.9 524.7,103.5 526.0,108.1 527.3,112.7 528.6,117.2 529.9,121.6 531.1,126.0 532.4,130.3 533.7,134.4 535.0,138.4 536.3,142.2 537.6,145.9 538.8,149.4 540.1,152.7 541.4,155.8 542.7,158.7 544.0,161.4 545.2,163.9 546.5,166.3 547.8,168.5 549.1,170.5 550.4,172.4 551.6,174.1 552.9,175.6 554.2,177.1 555.5,178.4 556.8,179.6 558.0,180.7 559.3,181.7 560.6,182.6 561.9,183.4 563.2,184.1 564.4,184.8 565.7,185.4 567.0,186.0 568.3,186.5 569.6,186.9 570.9,187.3 572.1,187.7 573.4,188.0 574.7,188.3 576.0,188.6 577.3,188.8 578.5,189.1 579.8,189.3 581.1,189.4 582.4,189.6 583.7,189.7 584.9,189.9 586.2,190.0 587.5,190.1 588.8,190.2 590.1,190.3 591.3,190.3 592.6,190.4 593.9,190.5 595.2,190.5 596.5,190.6 597.7,190.6 599.0,190.6 600.3,190.7 601.6,190.7 602.9,190.7 604.2,190.8 605.4,190.8 606.7,190.8 608.0,190.8 609.3,190.9 610.6,190.9 611.8,190.9 613.1,190.9 614.4,190.9 615.7,190.9 617.0,190.9 618.2,190.9 619.5,190.9 620.8,190.9 622.1,190.9 623.4,191.0 624.6,191.0 625.9,191.0 627.2,191.0 628.5,191.0 629.8,191.0 631.0,191.0 632.3,191.0 633.6,191.0 634.9,191.0 636.2,191.0 637.5,191.0 638.7,191.0 640.0,191.0 641.3,191.0 642.6,191.0 643.9,191.0 645.1,191.0 646.4,191.0 647.7,191.0 649.0,191.0 650.3,191.0 651.5,191.0 652.8,191.0 654.1,191.0 655.4,191.0 656.7,191.0 657.9,191.0 659.2,191.0 660.5,191.0 661.8,191.0 663.1,191.0 664.4,191.0 665.6,191.0 666.9,191.0 668.2,191.0 669.5,191.0 670.8,191.0 672.0,191.0 673.3,191.0 674.6,191.0 675.9,191.0 677.2,191.0 678.4,191.0 679.7,191.0" fill="none" stroke="#cdcdcd" stroke-width="1.8"/>
<path d="M487.6,23.4 488.9,23.8 490.2,24.2 491.4,24.7 492.7,25.2 494.0,25.8 495.3,26.5 496.6,27.3 497.8,28.2 499.1,29.2 500.4,30.3 501.7,31.6 503.0,33.0 504.3,34.5 505.5,36.3 506.8,38.2 508.1,40.3 509.4,42.7 510.7,45.3 511.9,48.2 513.2,51.3 514.5,54.7 515.8,58.3 517.1,62.2 518.3,66.4 519.6,70.9 520.9,75.6 522.2,80.5 523.5,85.6 524.7,90.8 526.0,96.2 527.3,101.7 528.6,107.2 529.9,112.7 531.1,118.1 532.4,123.4 533.7,128.6 535.0,133.6 536.3,138.4 537.6,143.0 538.8,147.3 540.1,151.4 541.4,155.1 542.7,158.7 544.0,161.9 545.2,164.9 546.5,167.6 547.8,170.1 549.1,172.4 550.4,174.4 551.6,176.2 552.9,177.9 554.2,179.4 555.5,180.7 556.8,181.9 558.0,182.9 559.3,183.9 560.6,184.7 561.9,185.4 563.2,186.1 564.4,186.7 565.7,187.2 567.0,187.6 568.3,188.0 569.6,188.4 570.9,188.7 572.1,189.0 573.4,189.2 574.7,189.4 576.0,189.6 577.3,189.8 578.5,189.9 579.8,190.1 581.1,190.2 582.4,190.3 583.7,190.4 584.9,190.4 586.2,190.5 587.5,190.6 588.8,190.6 590.1,190.7 591.3,190.7 592.6,190.7 593.9,190.8 595.2,190.8 596.5,190.8 597.7,190.8 599.0,190.9 600.3,190.9 601.6,190.9 602.9,190.9 604.2,190.9 605.4,190.9 606.7,190.9 608.0,190.9 609.3,191.0 610.6,191.0 611.8,191.0 613.1,191.0 614.4,191.0 615.7,191.0 617.0,191.0 618.2,191.0 619.5,191.0 620.8,191.0 622.1,191.0 623.4,191.0 624.6,191.0 625.9,191.0 627.2,191.0 628.5,191.0 629.8,191.0 631.0,191.0 632.3,191.0 633.6,191.0 634.9,191.0 636.2,191.0 637.5,191.0 638.7,191.0 640.0,191.0 641.3,191.0 642.6,191.0 643.9,191.0 645.1,191.0 646.4,191.0 647.7,191.0 649.0,191.0 650.3,191.0 651.5,191.0 652.8,191.0 654.1,191.0 655.4,191.0 656.7,191.0 657.9,191.0 659.2,191.0 660.5,191.0 661.8,191.0 663.1,191.0 664.4,191.0 665.6,191.0 666.9,191.0 668.2,191.0 669.5,191.0 670.8,191.0 672.0,191.0 673.3,191.0 674.6,191.0 675.9,191.0 677.2,191.0 678.4,191.0 679.7,191.0" fill="none" stroke="#cdcdcd" stroke-width="1.8"/>
<path d="M487.6,22.5 488.9,22.7 490.2,23.0 491.4,23.3 492.7,23.6 494.0,24.0 495.3,24.4 496.6,24.9 497.8,25.5 499.1,26.1 500.4,26.8 501.7,27.5 503.0,28.4 504.3,29.4 505.5,30.4 506.8,31.6 508.1,33.0 509.4,34.5 510.7,36.1 511.9,37.9 513.2,39.9 514.5,42.2 515.8,44.6 517.1,47.2 518.3,50.1 519.6,53.2 520.9,56.6 522.2,60.2 523.5,64.0 524.7,68.1 526.0,72.4 527.3,76.9 528.6,81.7 529.9,86.5 531.1,91.6 532.4,96.7 533.7,101.9 535.0,107.1 536.3,112.3 537.6,117.5 538.8,122.6 540.1,127.5 541.4,132.3 542.7,137.0 544.0,141.4 545.2,145.6 546.5,149.6 547.8,153.3 549.1,156.8 550.4,160.0 551.6,163.0 552.9,165.7 554.2,168.3 555.5,170.6 556.8,172.7 558.0,174.6 559.3,176.3 560.6,177.9 561.9,179.3 563.2,180.6 564.4,181.7 565.7,182.7 567.0,183.6 568.3,184.5 569.6,185.2 570.9,185.8 572.1,186.4 573.4,186.9 574.7,187.4 576.0,187.8 577.3,188.2 578.5,188.5 579.8,188.8 581.1,189.0 582.4,189.3 583.7,189.5 584.9,189.6 586.2,189.8 587.5,189.9 588.8,190.1 590.1,190.2 591.3,190.3 592.6,190.3 593.9,190.4 595.2,190.5 596.5,190.5 597.7,190.6 599.0,190.6 600.3,190.7 601.6,190.7 602.9,190.8 604.2,190.8 605.4,190.8 606.7,190.8 608.0,190.8 609.3,190.9 610.6,190.9 611.8,190.9 613.1,190.9 614.4,190.9 615.7,190.9 617.0,190.9 618.2,190.9 619.5,190.9 620.8,191.0 622.1,191.0 623.4,191.0 624.6,191.0 625.9,191.0 627.2,191.0 628.5,191.0 629.8,191.0 631.0,191.0 632.3,191.0 633.6,191.0 634.9,191.0 636.2,191.0 637.5,191.0 638.7,191.0 640.0,191.0 641.3,191.0 642.6,191.0 643.9,191.0 645.1,191.0 646.4,191.0 647.7,191.0 649.0,191.0 650.3,191.0 651.5,191.0 652.8,191.0 654.1,191.0 655.4,191.0 656.7,191.0 657.9,191.0 659.2,191.0 660.5,191.0 661.8,191.0 663.1,191.0 664.4,191.0 665.6,191.0 666.9,191.0 668.2,191.0 669.5,191.0 670.8,191.0 672.0,191.0 673.3,191.0 674.6,191.0 675.9,191.0 677.2,191.0 678.4,191.0 679.7,191.0" fill="none" stroke="#cdcdcd" stroke-width="1.8"/>
<path d="M487.6,21.8 488.9,22.0 490.2,22.1 491.4,22.3 492.7,22.6 494.0,22.8 495.3,23.1 496.6,23.4 497.8,23.8 499.1,24.2 500.4,24.7 501.7,25.2 503.0,25.9 504.3,26.5 505.5,27.3 506.8,28.1 508.1,29.1 509.4,30.2 510.7,31.4 511.9,32.7 513.2,34.2 514.5,35.9 515.8,37.7 517.1,39.7 518.3,41.9 519.6,44.4 520.9,47.1 522.2,50.0 523.5,53.2 524.7,56.6 526.0,60.3 527.3,64.3 528.6,68.5 529.9,72.9 531.1,77.5 532.4,82.4 533.7,87.4 535.0,92.6 536.3,97.8 537.6,103.1 538.8,108.5 540.1,113.8 541.4,119.0 542.7,124.2 544.0,129.2 545.2,134.1 546.5,138.7 547.8,143.1 549.1,147.3 550.4,151.3 551.6,155.0 552.9,158.4 554.2,161.6 555.5,164.5 556.8,167.2 558.0,169.7 559.3,171.9 560.6,173.9 561.9,175.7 563.2,177.4 564.4,178.9 565.7,180.2 567.0,181.4 568.3,182.5 569.6,183.5 570.9,184.3 572.1,185.1 573.4,185.7 574.7,186.4 576.0,186.9 577.3,187.4 578.5,187.8 579.8,188.2 581.1,188.5 582.4,188.8 583.7,189.0 584.9,189.3 586.2,189.5 587.5,189.6 588.8,189.8 590.1,189.9 591.3,190.1 592.6,190.2 593.9,190.3 595.2,190.4 596.5,190.4 597.7,190.5 599.0,190.6 600.3,190.6 601.6,190.7 602.9,190.7 604.2,190.7 605.4,190.8 606.7,190.8 608.0,190.8 609.3,190.8 610.6,190.9 611.8,190.9 613.1,190.9 614.4,190.9 615.7,190.9 617.0,190.9 618.2,190.9 619.5,190.9 620.8,190.9 622.1,191.0 623.4,191.0 624.6,191.0 625.9,191.0 627.2,191.0 628.5,191.0 629.8,191.0 631.0,191.0 632.3,191.0 633.6,191.0 634.9,191.0 636.2,191.0 637.5,191.0 638.7,191.0 640.0,191.0 641.3,191.0 642.6,191.0 643.9,191.0 645.1,191.0 646.4,191.0 647.7,191.0 649.0,191.0 650.3,191.0 651.5,191.0 652.8,191.0 654.1,191.0 655.4,191.0 656.7,191.0 657.9,191.0 659.2,191.0 660.5,191.0 661.8,191.0 663.1,191.0 664.4,191.0 665.6,191.0 666.9,191.0 668.2,191.0 669.5,191.0 670.8,191.0 672.0,191.0 673.3,191.0 674.6,191.0 675.9,191.0 677.2,191.0 678.4,191.0 679.7,191.0" fill="none" stroke="#cdcdcd" stroke-width="1.8"/>
<path d="M487.6,21.5 488.9,21.5 490.2,21.6 491.4,21.7 492.7,21.9 494.0,22.0 495.3,22.1 496.6,22.3 497.8,22.4 499.1,22.6 500.4,22.8 501.7,23.0 503.0,23.3 504.3,23.5 505.5,23.8 506.8,24.1 508.1,24.5 509.4,24.8 510.7,25.3 511.9,25.7 513.2,26.2 514.5,26.7 515.8,27.3 517.1,28.0 518.3,28.7 519.6,29.4 520.9,30.3 522.2,31.2 523.5,32.2 524.7,33.2 526.0,34.4 527.3,35.7 528.6,37.0 529.9,38.5 531.1,40.1 532.4,41.8 533.7,43.6 535.0,45.6 536.3,47.7 537.6,49.9 538.8,52.3 540.1,54.8 541.4,57.5 542.7,60.3 544.0,63.3 545.2,66.4 546.5,69.7 547.8,73.1 549.1,76.6 550.4,80.2 551.6,84.0 552.9,87.8 554.2,91.7 555.5,95.7 556.8,99.7 558.0,103.8 559.3,107.8 560.6,111.9 561.9,115.9 563.2,119.9 564.4,123.8 565.7,127.6 567.0,131.4 568.3,135.0 569.6,138.5 570.9,141.9 572.1,145.2 573.4,148.3 574.7,151.3 576.0,154.1 577.3,156.8 578.5,159.3 579.8,161.7 581.1,163.9 582.4,166.0 583.7,168.0 584.9,169.8 586.2,171.5 587.5,173.1 588.8,174.6 590.1,175.9 591.3,177.2 592.6,178.4 593.9,179.4 595.2,180.4 596.5,181.3 597.7,182.2 599.0,182.9 600.3,183.6 601.6,184.3 602.9,184.9 604.2,185.4 605.4,185.9 606.7,186.3 608.0,186.8 609.3,187.1 610.6,187.5 611.8,187.8 613.1,188.1 614.4,188.3 615.7,188.6 617.0,188.8 618.2,189.0 619.5,189.2 620.8,189.3 622.1,189.5 623.4,189.6 624.6,189.7 625.9,189.9 627.2,190.0 628.5,190.1 629.8,190.1 631.0,190.2 632.3,190.3 633.6,190.4 634.9,190.4 636.2,190.5 637.5,190.5 638.7,190.6 640.0,190.6 641.3,190.6 642.6,190.7 643.9,190.7 645.1,190.7 646.4,190.8 647.7,190.8 649.0,190.8 650.3,190.8 651.5,190.8 652.8,190.8 654.1,190.9 655.4,190.9 656.7,190.9 657.9,190.9 659.2,190.9 660.5,190.9 661.8,190.9 663.1,190.9 664.4,190.9 665.6,190.9 666.9,190.9 668.2,191.0 669.5,191.0 670.8,191.0 672.0,191.0 673.3,191.0 674.6,191.0 675.9,191.0 677.2,191.0 678.4,191.0 679.7,191.0" fill="none" stroke="#cdcdcd" stroke-width="1.8"/>
<path d="M487.6,21.9 488.9,22.0 490.2,22.1 491.4,22.2 492.7,22.3 494.0,22.5 495.3,22.6 496.6,22.7 497.8,22.9 499.1,23.1 500.4,23.3 501.7,23.5 503.0,23.7 504.3,23.9 505.5,24.1 506.8,24.4 508.1,24.7 509.4,25.0 510.7,25.3 511.9,25.6 513.2,26.0 514.5,26.4 515.8,26.8 517.1,27.3 518.3,27.8 519.6,28.3 520.9,28.8 522.2,29.4 523.5,30.0 524.7,30.7 526.0,31.4 527.3,32.2 528.6,33.0 529.9,33.9 531.1,34.8 532.4,35.7 533.7,36.8 535.0,37.9 536.3,39.0 537.6,40.3 538.8,41.6 540.1,42.9 541.4,44.4 542.7,45.9 544.0,47.5 545.2,49.2 546.5,51.0 547.8,52.9 549.1,54.8 550.4,56.8 551.6,59.0 552.9,61.2 554.2,63.4 555.5,65.8 556.8,68.3 558.0,70.8 559.3,73.4 560.6,76.1 561.9,78.9 563.2,81.7 564.4,84.6 565.7,87.5 567.0,90.5 568.3,93.5 569.6,96.5 570.9,99.6 572.1,102.7 573.4,105.8 574.7,108.9 576.0,112.0 577.3,115.1 578.5,118.1 579.8,121.1 581.1,124.1 582.4,127.0 583.7,129.9 584.9,132.7 586.2,135.5 587.5,138.2 588.8,140.8 590.1,143.3 591.3,145.8 592.6,148.2 593.9,150.4 595.2,152.6 596.5,154.8 597.7,156.8 599.0,158.7 600.3,160.6 601.6,162.4 602.9,164.1 604.2,165.7 605.4,167.2 606.7,168.7 608.0,170.0 609.3,171.3 610.6,172.6 611.8,173.7 613.1,174.8 614.4,175.9 615.7,176.8 617.0,177.7 618.2,178.6 619.5,179.4 620.8,180.2 622.1,180.9 623.4,181.6 624.6,182.2 625.9,182.8 627.2,183.3 628.5,183.8 629.8,184.3 631.0,184.8 632.3,185.2 633.6,185.6 634.9,186.0 636.2,186.3 637.5,186.6 638.7,186.9 640.0,187.2 641.3,187.5 642.6,187.7 643.9,187.9 645.1,188.1 646.4,188.3 647.7,188.5 649.0,188.7 650.3,188.9 651.5,189.0 652.8,189.1 654.1,189.3 655.4,189.4 656.7,189.5 657.9,189.6 659.2,189.7 660.5,189.8 661.8,189.9 663.1,190.0 664.4,190.0 665.6,190.1 666.9,190.2 668.2,190.2 669.5,190.3 670.8,190.3 672.0,190.4 673.3,190.4 674.6,190.5 675.9,190.5 677.2,190.5 678.4,190.6 679.7,190.6" fill="none" stroke="#cdcdcd" stroke-width="1.8"/>
<path d="M487.6,21.1 488.9,21.1 490.2,21.2 491.4,21.2 492.7,21.3 494.0,21.4 495.3,21.4 496.6,21.5 497.8,21.6 499.1,21.7 500.4,21.8 501.7,21.9 503.0,22.0 504.3,22.1 505.5,22.2 506.8,22.4 508.1,22.5 509.4,22.7 510.7,22.9 511.9,23.1 513.2,23.3 514.5,23.5 515.8,23.8 517.1,24.1 518.3,24.4 519.6,24.7 520.9,25.1 522.2,25.4 523.5,25.9 524.7,26.3 526.0,26.8 527.3,27.3 528.6,27.9 529.9,28.5 531.1,29.2 532.4,29.9 533.7,30.7 535.0,31.5 536.3,32.4 537.6,33.4 538.8,34.4 540.1,35.6 541.4,36.8 542.7,38.1 544.0,39.4 545.2,40.9 546.5,42.5 547.8,44.2 549.1,45.9 550.4,47.8 551.6,49.8 552.9,52.0 554.2,54.2 555.5,56.5 556.8,59.0 558.0,61.6 559.3,64.3 560.6,67.1 561.9,70.1 563.2,73.1 564.4,76.3 565.7,79.5 567.0,82.8 568.3,86.2 569.6,89.7 570.9,93.2 572.1,96.8 573.4,100.4 574.7,104.0 576.0,107.6 577.3,111.2 578.5,114.8 579.8,118.4 581.1,121.9 582.4,125.4 583.7,128.8 584.9,132.1 586.2,135.3 587.5,138.5 588.8,141.5 590.1,144.5 591.3,147.3 592.6,150.0 593.9,152.6 595.2,155.1 596.5,157.4 597.7,159.6 599.0,161.8 600.3,163.8 601.6,165.7 602.9,167.4 604.2,169.1 605.4,170.7 606.7,172.2 608.0,173.5 609.3,174.8 610.6,176.0 611.8,177.2 613.1,178.2 614.4,179.2 615.7,180.1 617.0,180.9 618.2,181.7 619.5,182.4 620.8,183.1 622.1,183.7 623.4,184.3 624.6,184.8 625.9,185.3 627.2,185.7 628.5,186.2 629.8,186.5 631.0,186.9 632.3,187.2 633.6,187.5 634.9,187.8 636.2,188.1 637.5,188.3 638.7,188.5 640.0,188.7 641.3,188.9 642.6,189.1 643.9,189.2 645.1,189.4 646.4,189.5 647.7,189.6 649.0,189.7 650.3,189.8 651.5,189.9 652.8,190.0 654.1,190.1 655.4,190.2 656.7,190.2 657.9,190.3 659.2,190.4 660.5,190.4 661.8,190.5 663.1,190.5 664.4,190.5 665.6,190.6 666.9,190.6 668.2,190.6 669.5,190.7 670.8,190.7 672.0,190.7 673.3,190.7 674.6,190.8 675.9,190.8 677.2,190.8 678.4,190.8 679.7,190.8" fill="none" stroke="#cdcdcd" stroke-width="1.8"/>
<path d="M487.6,20.8 488.9,20.8 490.2,20.9 491.4,20.9 492.7,20.9 494.0,20.9 495.3,21.0 496.6,21.0 497.8,21.1 499.1,21.1 500.4,21.2 501.7,21.2 503.0,21.3 504.3,21.3 505.5,21.4 506.8,21.5 508.1,21.6 509.4,21.7 510.7,21.8 511.9,21.9 513.2,22.0 514.5,22.1 515.8,22.3 517.1,22.5 518.3,22.6 519.6,22.8 520.9,23.0 522.2,23.3 523.5,23.5 524.7,23.8 526.0,24.1 527.3,24.4 528.6,24.8 529.9,25.2 531.1,25.7 532.4,26.1 533.7,26.6 535.0,27.2 536.3,27.8 537.6,28.5 538.8,29.2 540.1,30.0 541.4,30.9 542.7,31.8 544.0,32.8 545.2,33.9 546.5,35.1 547.8,36.4 549.1,37.8 550.4,39.3 551.6,40.9 552.9,42.6 554.2,44.5 555.5,46.5 556.8,48.6 558.0,50.8 559.3,53.2 560.6,55.7 561.9,58.4 563.2,61.2 564.4,64.1 565.7,67.2 567.0,70.4 568.3,73.8 569.6,77.2 570.9,80.8 572.1,84.5 573.4,88.2 574.7,92.1 576.0,95.9 577.3,99.9 578.5,103.8 579.8,107.8 581.1,111.7 582.4,115.7 583.7,119.5 584.9,123.4 586.2,127.1 587.5,130.8 588.8,134.4 590.1,137.8 591.3,141.2 592.6,144.4 593.9,147.5 595.2,150.4 596.5,153.2 597.7,155.9 599.0,158.4 600.3,160.8 601.6,163.0 602.9,165.1 604.2,167.1 605.4,169.0 606.7,170.7 608.0,172.3 609.3,173.8 610.6,175.2 611.8,176.5 613.1,177.7 614.4,178.8 615.7,179.8 617.0,180.7 618.2,181.6 619.5,182.4 620.8,183.1 622.1,183.8 623.4,184.4 624.6,185.0 625.9,185.5 627.2,185.9 628.5,186.4 629.8,186.8 631.0,187.2 632.3,187.5 633.6,187.8 634.9,188.1 636.2,188.3 637.5,188.6 638.7,188.8 640.0,189.0 641.3,189.1 642.6,189.3 643.9,189.5 645.1,189.6 646.4,189.7 647.7,189.8 649.0,189.9 650.3,190.0 651.5,190.1 652.8,190.2 654.1,190.3 655.4,190.3 656.7,190.4 657.9,190.4 659.2,190.5 660.5,190.5 661.8,190.6 663.1,190.6 664.4,190.7 665.6,190.7 666.9,190.7 668.2,190.7 669.5,190.8 670.8,190.8 672.0,190.8 673.3,190.8 674.6,190.8 675.9,190.8 677.2,190.9 678.4,190.9 679.7,190.9" fill="none" stroke="#cdcdcd" stroke-width="1.8"/>
<g stroke="#d0d0d0" stroke-width="1.2" fill="none">
<path d="M495.6,32.9h6M498.6,32.9v6.6M495.6,39.5h6"/>
<path d="M504.5,52.1h6M507.5,52.1v5.5M504.5,57.6h6"/>
<path d="M510.9,69.7h6M513.9,69.7v4.1M510.9,73.8h6"/>
<path d="M519.8,93.4h6M522.8,93.4v4.4M519.8,97.7h6"/>
<path d="M527.0,121.9h6M530.0,121.9v4.5M527.0,126.4h6"/>
<path d="M534.6,145.0h6M537.6,145.0v7.8M534.6,152.8h6"/>
<path d="M546.4,166.2h6M549.4,166.2v7.9M546.4,174.1h6"/>
<path d="M502.0,36.5h6M505.0,36.5v5.2M502.0,41.7h6"/>
<path d="M510.4,50.5h6M513.4,50.5v5.2M510.4,55.8h6"/>
<path d="M517.9,67.3h6M520.9,67.3v6.3M517.9,73.6h6"/>
<path d="M523.7,93.7h6M526.7,93.7v6.2M523.7,99.9h6"/>
<path d="M527.9,118.7h6M530.9,118.7v4.8M527.9,123.5h6"/>
<path d="M536.7,145.5h6M539.7,145.5v5.3M536.7,150.7h6"/>
<path d="M545.3,167.8h6M548.3,167.8v5.2M545.3,173.0h6"/>
<path d="M509.7,35.9h6M512.7,35.9v5.0M509.7,40.9h6"/>
<path d="M517.4,51.0h6M520.4,51.0v7.5M517.4,58.5h6"/>
<path d="M523.6,66.9h6M526.6,66.9v7.9M523.6,74.8h6"/>
<path d="M528.4,93.4h6M531.4,93.4v7.0M528.4,100.5h6"/>
<path d="M534.8,120.7h6M537.8,120.7v4.2M534.8,124.9h6"/>
<path d="M543.7,146.3h6M546.7,146.3v6.3M543.7,152.6h6"/>
<path d="M553.7,166.4h6M556.7,166.4v6.8M553.7,173.2h6"/>
<path d="M513.1,35.0h6M516.1,35.0v5.8M513.1,40.9h6"/>
<path d="M522.1,53.5h6M525.1,53.5v5.9M522.1,59.4h6"/>
<path d="M527.1,66.6h6M530.1,66.6v6.8M527.1,73.4h6"/>
<path d="M533.6,95.6h6M536.6,95.6v7.3M533.6,102.9h6"/>
<path d="M538.6,119.0h6M541.6,119.0v6.7M538.6,125.7h6"/>
<path d="M544.9,145.9h6M547.9,145.9v4.7M544.9,150.6h6"/>
<path d="M554.3,165.3h6M557.3,165.3v7.1M554.3,172.3h6"/>
<path d="M524.9,33.8h6M527.9,33.8v5.6M524.9,39.4h6"/>
<path d="M538.2,50.1h6M541.2,50.1v5.8M538.2,55.9h6"/>
<path d="M544.4,69.6h6M547.4,69.6v7.3M544.4,76.9h6"/>
<path d="M554.2,93.6h6M557.2,93.6v5.7M554.2,99.2h6"/>
<path d="M560.7,120.5h6M563.7,120.5v7.8M560.7,128.3h6"/>
<path d="M569.3,144.6h6M572.3,144.6v4.9M569.3,149.6h6"/>
<path d="M581.6,167.3h6M584.6,167.3v6.4M581.6,173.7h6"/>
<path d="M531.0,32.8h6M534.0,32.8v5.7M531.0,38.5h6"/>
<path d="M545.6,51.0h6M548.6,51.0v7.8M545.6,58.9h6"/>
<path d="M556.1,68.5h6M559.1,68.5v6.5M556.1,75.0h6"/>
<path d="M567.4,91.7h6M570.4,91.7v7.6M567.4,99.3h6"/>
<path d="M578.5,120.7h6M581.5,120.7v7.2M578.5,127.9h6"/>
<path d="M589.4,145.8h6M592.4,145.8v4.4M589.4,150.2h6"/>
<path d="M605.9,166.7h6M608.9,166.7v4.3M605.9,170.9h6"/>
<path d="M538.3,33.6h6M541.3,33.6v5.4M538.3,39.0h6"/>
<path d="M550.0,50.4h6M553.0,50.4v4.6M550.0,55.0h6"/>
<path d="M558.3,69.1h6M561.3,69.1v4.1M558.3,73.2h6"/>
<path d="M570.5,95.4h6M573.5,95.4v4.6M570.5,100.0h6"/>
<path d="M577.6,119.5h6M580.6,119.5v5.5M577.6,125.0h6"/>
<path d="M587.7,145.8h6M590.7,145.8v8.0M587.7,153.8h6"/>
<path d="M602.2,168.3h6M605.2,168.3v4.3M602.2,172.7h6"/>
<path d="M544.7,34.5h6M547.7,34.5v5.1M544.7,39.5h6"/>
<path d="M558.1,51.3h6M561.1,51.3v4.1M558.1,55.4h6"/>
<path d="M566.0,69.5h6M569.0,69.5v4.6M566.0,74.1h6"/>
<path d="M573.6,92.3h6M576.6,92.3v6.1M573.6,98.4h6"/>
<path d="M583.3,120.9h6M586.3,120.9v6.8M583.3,127.7h6"/>
<path d="M590.5,145.5h6M593.5,145.5v4.7M590.5,150.2h6"/>
<path d="M604.5,167.1h6M607.5,167.1v7.1M604.5,174.2h6"/>
</g>
<path d="M487.6,20.9 488.9,21.0 490.2,21.0 491.4,21.0 492.7,21.1 494.0,21.1 495.3,21.2 496.6,21.2 497.8,21.3 499.1,21.3 500.4,21.4 501.7,21.5 503.0,21.5 504.3,21.6 505.5,21.7 506.8,21.8 508.1,22.0 509.4,22.1 510.7,22.2 511.9,22.4 513.2,22.5 514.5,22.7 515.8,22.9 517.1,23.1 518.3,23.4 519.6,23.6 520.9,23.9 522.2,24.2 523.5,24.5 524.7,24.9 526.0,25.3 527.3,25.7 528.6,26.2 529.9,26.7 531.1,27.2 532.4,27.8 533.7,28.5 535.0,29.2 536.3,29.9 537.6,30.8 538.8,31.7 540.1,32.6 541.4,33.7 542.7,34.8 544.0,36.0 545.2,37.3 546.5,38.7 547.8,40.2 549.1,41.9 550.4,43.6 551.6,45.4 552.9,47.4 554.2,49.5 555.5,51.7 556.8,54.1 558.0,56.5 559.3,59.2 560.6,61.9 561.9,64.8 563.2,67.8 564.4,70.9 565.7,74.2 567.0,77.5 568.3,81.0 569.6,84.5 570.9,88.2 572.1,91.9 573.4,95.6 574.7,99.4 576.0,103.2 577.3,107.0 578.5,110.9 579.8,114.7 581.1,118.4 582.4,122.2 583.7,125.8 584.9,129.4 586.2,132.9 587.5,136.3 588.8,139.6 590.1,142.7 591.3,145.8 592.6,148.7 593.9,151.5 595.2,154.2 596.5,156.7 597.7,159.1 599.0,161.3 600.3,163.5 601.6,165.5 602.9,167.4 604.2,169.2 605.4,170.8 606.7,172.4 608.0,173.8 609.3,175.1 610.6,176.4 611.8,177.5 613.1,178.6 614.4,179.6 615.7,180.5 617.0,181.4 618.2,182.2 619.5,182.9 620.8,183.6 622.1,184.2 623.4,184.7 624.6,185.3 625.9,185.7 627.2,186.2 628.5,186.6 629.8,186.9 631.0,187.3 632.3,187.6 633.6,187.9 634.9,188.2 636.2,188.4 637.5,188.6 638.7,188.8 640.0,189.0 641.3,189.2 642.6,189.3 643.9,189.5 645.1,189.6 646.4,189.7 647.7,189.8 649.0,189.9 650.3,190.0 651.5,190.1 652.8,190.2 654.1,190.3 655.4,190.3 656.7,190.4 657.9,190.4 659.2,190.5 660.5,190.5 661.8,190.6 663.1,190.6 664.4,190.6 665.6,190.7 666.9,190.7 668.2,190.7 669.5,190.7 670.8,190.8 672.0,190.8 673.3,190.8 674.6,190.8 675.9,190.8 677.2,190.9 678.4,190.9 679.7,190.9" fill="none" stroke="#000" stroke-width="2.0"/>
<path d="M487.6,21.4 488.9,21.5 490.2,21.6 491.4,21.7 492.7,21.8 494.0,21.9 495.3,22.1 496.6,22.2 497.8,22.4 499.1,22.5 500.4,22.7 501.7,23.0 503.0,23.2 504.3,23.5 505.5,23.8 506.8,24.1 508.1,24.4 509.4,24.8 510.7,25.2 511.9,25.7 513.2,26.2 514.5,26.8 515.8,27.4 517.1,28.0 518.3,28.8 519.6,29.6 520.9,30.4 522.2,31.4 523.5,32.4 524.7,33.5 526.0,34.7 527.3,36.1 528.6,37.5 529.9,39.1 531.1,40.7 532.4,42.5 533.7,44.5 535.0,46.6 536.3,48.8 537.6,51.2 538.8,53.7 540.1,56.4 541.4,59.3 542.7,62.3 544.0,65.4 545.2,68.8 546.5,72.2 547.8,75.8 549.1,79.5 550.4,83.4 551.6,87.3 552.9,91.3 554.2,95.4 555.5,99.5 556.8,103.7 558.0,107.9 559.3,112.1 560.6,116.2 561.9,120.3 563.2,124.3 564.4,128.2 565.7,132.1 567.0,135.8 568.3,139.4 569.6,142.8 570.9,146.2 572.1,149.3 573.4,152.3 574.7,155.2 576.0,157.9 577.3,160.4 578.5,162.8 579.8,165.0 581.1,167.1 582.4,169.1 583.7,170.9 584.9,172.5 586.2,174.1 587.5,175.5 588.8,176.9 590.1,178.1 591.3,179.2 592.6,180.2 593.9,181.2 595.2,182.0 596.5,182.8 597.7,183.6 599.0,184.2 600.3,184.8 601.6,185.4 602.9,185.9 604.2,186.4 605.4,186.8 606.7,187.2 608.0,187.5 609.3,187.8 610.6,188.1 611.8,188.4 613.1,188.6 614.4,188.9 615.7,189.1 617.0,189.2 618.2,189.4 619.5,189.5 620.8,189.7 622.1,189.8 623.4,189.9 624.6,190.0 625.9,190.1 627.2,190.2 628.5,190.3 629.8,190.3 631.0,190.4 632.3,190.5 633.6,190.5 634.9,190.5 636.2,190.6 637.5,190.6 638.7,190.7 640.0,190.7 641.3,190.7 642.6,190.7 643.9,190.8 645.1,190.8 646.4,190.8 647.7,190.8 649.0,190.8 650.3,190.9 651.5,190.9 652.8,190.9 654.1,190.9 655.4,190.9 656.7,190.9 657.9,190.9 659.2,190.9 660.5,190.9 661.8,190.9 663.1,190.9 664.4,191.0 665.6,191.0 666.9,191.0 668.2,191.0 669.5,191.0 670.8,191.0 672.0,191.0 673.3,191.0 674.6,191.0 675.9,191.0 677.2,191.0 678.4,191.0 679.7,191.0" fill="none" stroke="#f00" stroke-width="2.0"/>
<circle cx="558.2" cy="51.4" r="5.1" fill="none" stroke="#000" stroke-width="1.7"/>
<path d="M555.5,49.9h5.4M558.2,49.9v3M555.5,52.9h5.4" stroke="#000" stroke-width="1.2" fill="none"/>
<circle cx="564.7" cy="67.7" r="5.1" fill="none" stroke="#000" stroke-width="1.7"/>
<path d="M562.0,66.2h5.4M564.7,66.2v3M562.0,69.2h5.4" stroke="#000" stroke-width="1.2" fill="none"/>
<circle cx="564.7" cy="75.8" r="5.1" fill="none" stroke="#000" stroke-width="1.7"/>
<path d="M562.0,74.3h5.4M564.7,74.3v3M562.0,77.3h5.4" stroke="#000" stroke-width="1.2" fill="none"/>
<circle cx="574" cy="98.3" r="5.1" fill="none" stroke="#000" stroke-width="1.7"/>
<path d="M571.3,96.8h5.4M574,96.8v3M571.3,99.8h5.4" stroke="#000" stroke-width="1.2" fill="none"/>
<circle cx="583" cy="124.8" r="5.1" fill="none" stroke="#000" stroke-width="1.7"/>
<path d="M580.3,123.3h5.4M583,123.3v3M580.3,126.3h5.4" stroke="#000" stroke-width="1.2" fill="none"/>
<circle cx="592.4" cy="145.8" r="5.1" fill="none" stroke="#000" stroke-width="1.7"/>
<path d="M589.6999999999999,144.3h5.4M592.4,144.3v3M589.6999999999999,147.3h5.4" stroke="#000" stroke-width="1.2" fill="none"/>
<g stroke="#000" stroke-width="1.8" fill="none">
<line x1="479" y1="19.8" x2="479" y2="199.9"/>
<line x1="469.4" y1="191.00" x2="479" y2="191.00"/>
<line x1="469.4" y1="156.92" x2="479" y2="156.92"/>
<line x1="469.4" y1="122.84" x2="479" y2="122.84"/>
<line x1="469.4" y1="88.76" x2="479" y2="88.76"/>
<line x1="469.4" y1="54.68" x2="479" y2="54.68"/>
<line x1="469.4" y1="20.60" x2="479" y2="20.60"/>
<line x1="478.1" y1="199" x2="680.6" y2="199"/>
<line x1="487.60" y1="199" x2="487.60" y2="209.3"/>
<line x1="519.62" y1="199" x2="519.62" y2="209.3"/>
<line x1="551.64" y1="199" x2="551.64" y2="209.3"/>
<line x1="583.66" y1="199" x2="583.66" y2="209.3"/>
<line x1="615.68" y1="199" x2="615.68" y2="209.3"/>
<line x1="647.70" y1="199" x2="647.70" y2="209.3"/>
<line x1="679.72" y1="199" x2="679.72" y2="209.3"/>
</g>
<text x="464.3" y="194.70" font-size="10.5" text-anchor="end">0.0</text>
<text x="464.3" y="160.62" font-size="10.5" text-anchor="end">0.2</text>
<text x="464.3" y="126.54" font-size="10.5" text-anchor="end">0.4</text>
<text x="464.3" y="92.46" font-size="10.5" text-anchor="end">0.6</text>
<text x="464.3" y="58.38" font-size="10.5" text-anchor="end">0.8</text>
<text x="464.3" y="24.30" font-size="10.5" text-anchor="end">1.0</text>
<text x="487.60" y="225" font-size="10.5" text-anchor="middle">4</text>
<text x="519.62" y="225" font-size="10.5" text-anchor="middle">5</text>
<text x="551.64" y="225" font-size="10.5" text-anchor="middle">6</text>
<text x="583.66" y="225" font-size="10.5" text-anchor="middle">7</text>
<text x="615.68" y="225" font-size="10.5" text-anchor="middle">8</text>
<text x="647.70" y="225" font-size="10.5" text-anchor="middle">9</text>
<text x="679.72" y="225" font-size="10.5" text-anchor="middle">10</text>
<text x="554.3" y="238.6" font-size="12.4" textLength="54.8" lengthAdjust="spacingAndGlyphs">Force [pN]</text>
<text transform="translate(439.4,108.6) rotate(-90)" font-size="13">P<tspan dx="-0.6" dy="3">f</tspan></text>
</g></svg></body></html>
